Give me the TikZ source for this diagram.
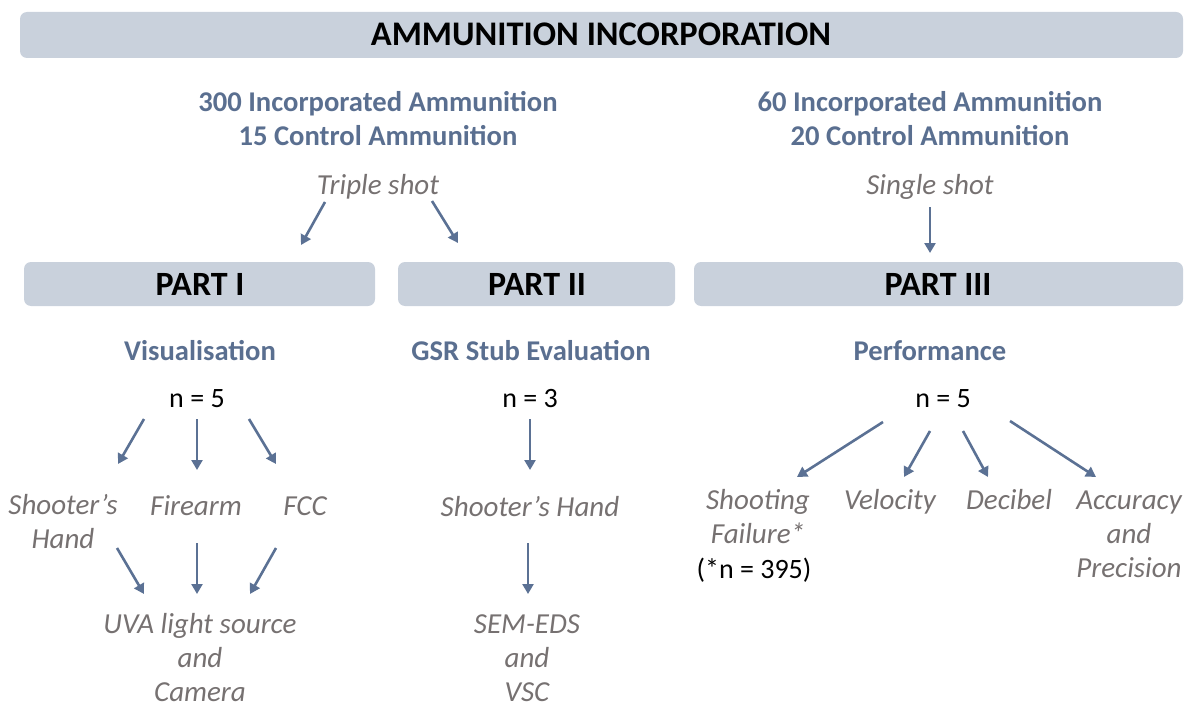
\documentclass[tikz,border=0pt]{standalone}
\usepackage{fontspec}
\setmainfont{Carlito}
\usetikzlibrary{arrows.meta}
\definecolor{barfill}{HTML}{C9D1DC}
\definecolor{slate}{HTML}{5A6F90}
\definecolor{arrowc}{HTML}{5B7194}
\definecolor{greytext}{HTML}{767171}
\tikzset{
  bar/.style={fill=barfill, rounded corners=7pt, draw=none},
  bartitle/.style={font=\fontsize{34}{40}\selectfont\bfseries, text=black, anchor=base, inner sep=0pt},
  heading/.style={font=\fontsize{28.6}{34}\selectfont\bfseries, text=slate, anchor=base, inner sep=0pt, align=center},
  item/.style={font=\fontsize{29}{34}\selectfont\itshape, text=greytext, anchor=base, inner sep=0pt, align=center},
  count/.style={font=\fontsize{28}{34}\selectfont, text=black, anchor=base, inner sep=0pt},
  flow/.style={draw=arrowc, line width=2.6pt, -{Triangle[length=10pt,width=11pt]}},
}
\begin{document}
\begin{tikzpicture}[x=1pt,y=-1pt]
\useasboundingbox (0,0) rectangle (1186,706);

% banner and part bars
\path[bar] (20,12) rectangle (1183,58);
\node[bartitle, font=\fontsize{34.5}{40}\selectfont\bfseries] (title) at (601,46) {AMMUNITION INCORPORATION};
\path[bar] (24,262) rectangle (375,306);
\path[bar] (398,262) rectangle (675,306);
\path[bar] (694,262) rectangle (1183,306);
\node[bartitle] (p1) at (200,295) {PART I};
\node[bartitle] (p2) at (537,295) {PART II};
\node[bartitle] (p3) at (938,295) {PART III};

% ammunition groups (base anchor sits on the last line)
\node[heading] (amL) at (378,146) {300 Incorporated Ammunition\\15 Control Ammunition};
\node[heading] (amR) at (930,146) {60 Incorporated Ammunition\\20 Control Ammunition};
\node[item] (triple) at (378,194) {Triple shot};
\node[item] (single) at (930,194) {Single shot};

% section headings and sample sizes
\node[heading] (vis) at (200,360) {Visualisation};
\node[heading] (gsr) at (531,360) {GSR Stub Evaluation};
\node[heading] (perf) at (930,360) {Performance};
\node[count] (n1) at (197,407) {n = 5};
\node[count] (n2) at (530,407) {n = 3};
\node[count] (n3) at (943,407) {n = 5};

% part I items
\node[item] (hand1) at (63,548.5) {Shooter’s\\Hand};
\node[item] (fire) at (196,515) {Firearm};
\node[item] (fcc) at (305,515) {FCC};
\node[item] (uva) at (200,701) {UVA light source\\and\\Camera};

% part II items
\node[item] (hand2) at (530,516) {Shooter’s Hand};
\node[item] (sem) at (527,701) {SEM-EDS\\and\\VSC};

% part III items
\node[item] (fail) at (758,543) {Shooting\\Failure*};
\node[count] (fn) at (754,578) {(*n = 395)};
\node[item] (vel) at (890,509) {Velocity};
\node[item] (dec) at (1009,509) {Decibel};
\node[item] (acc) at (1129,577) {Accuracy\\and\\Precision};

% arrow end points
\coordinate (t1a) at (325,202); \coordinate (t1b) at (301,245);
\coordinate (t2a) at (432,201); \coordinate (t2b) at (458,243);
\coordinate (s1a) at (930,207); \coordinate (s1b) at (930,253);

\coordinate (v1a) at (144,419); \coordinate (v1b) at (118,464);
\coordinate (v2a) at (197,419); \coordinate (v2b) at (197,470);
\coordinate (v3a) at (249,419); \coordinate (v3b) at (276,464);
\coordinate (v4a) at (117,548); \coordinate (v4b) at (144,594);
\coordinate (v5a) at (197,543); \coordinate (v5b) at (197,594);
\coordinate (v6a) at (276,548); \coordinate (v6b) at (250,594);

\coordinate (g1a) at (530,419); \coordinate (g1b) at (530,470);
\coordinate (g2a) at (528,543); \coordinate (g2b) at (528,594);

\coordinate (f1a) at (883,422); \coordinate (f1b) at (797,477);
\coordinate (f2a) at (930,431); \coordinate (f2b) at (904,477);
\coordinate (f3a) at (963,431); \coordinate (f3b) at (988,477);
\coordinate (f4a) at (1010,421); \coordinate (f4b) at (1096,477);

\foreach \a/\b in {t1a/t1b, t2a/t2b, s1a/s1b, v1a/v1b, v2a/v2b, v3a/v3b,
  v4a/v4b, v5a/v5b, v6a/v6b, g1a/g1b, g2a/g2b, f1a/f1b, f2a/f2b, f3a/f3b, f4a/f4b}
  \draw[flow] (\a) -- (\b);
\end{tikzpicture}
\end{document}
